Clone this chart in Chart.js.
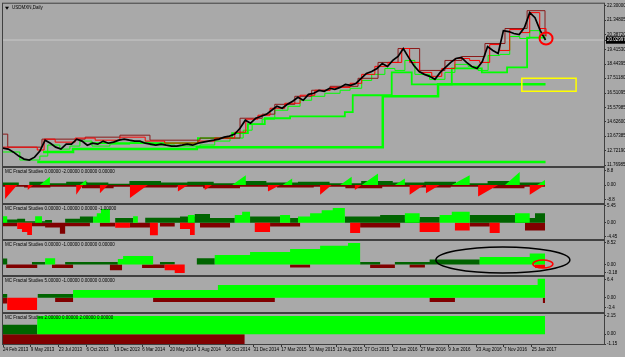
<!DOCTYPE html>
<html>
<head>
<meta charset="utf-8">
<title>USDMXN,Daily</title>
<script src="https://cdn.jsdelivr.net/npm/chart.js@4.4.1/dist/chart.umd.min.js"></script>
<style>
  html, body { margin: 0; padding: 0; }
  body { width: 625px; height: 357px; background: #a9a9a9; position: relative; overflow: hidden; }
  canvas { position: absolute; left: 0; }
</style>
</head>
<body>
<canvas id="pMain" width="625" height="171" style="top:0px"></canvas>
<canvas id="p1" width="625" height="45" style="top:163px"></canvas>
<canvas id="p2" width="625" height="44" style="top:200px"></canvas>
<canvas id="p3" width="625" height="44" style="top:236px"></canvas>
<canvas id="p4" width="625" height="45" style="top:272px"></canvas>
<canvas id="p5" width="625" height="48" style="top:309px"></canvas>
<script>
// time axis (x = trading-day bar index from 24 Feb 2013)
const dateLabels = ['24 Feb 2013','9 May 2013','23 Jul 2013','6 Oct 2013','19 Dec 2013','6 Mar 2014',
  '20 May 2014','3 Aug 2014','16 Oct 2014','31 Dec 2014','17 Mar 2015','31 May 2015','13 Aug 2015',
  '27 Oct 2015','12 Jan 2016','27 Mar 2016','9 Jun 2016','23 Aug 2016','7 Nov 2016','25 Jan 2017'];
const barsPerLabel = 52.84;
const lastBar = 1141;

// price panel
const priceTicks = [22.30000, 21.34805, 20.38720, 19.41530, 18.44395, 17.51180, 16.51095,
  15.57985, 14.62600, 13.67385, 12.72190, 11.76985];
const lastPrice = 20.02997;
const closeStep = 10;
const close = [12.89,12.82,12.62,12.36,12.16,12.10,12.29,12.69,13.41,13.21,
  12.95,12.82,13.15,13.15,13.48,13.35,13.08,13.21,13.15,13.35,
  13.21,13.28,13.41,13.48,13.41,13.35,13.35,13.21,13.15,13.08,
  13.15,13.08,13.02,13.02,13.08,13.15,13.08,13.21,13.28,13.35,
  13.41,13.48,13.61,13.68,13.81,14.20,14.73,14.53,14.86,14.99,
  15.12,15.39,15.65,15.52,15.78,15.98,16.24,16.05,16.44,16.51,
  16.70,16.64,16.84,16.77,16.90,17.10,17.03,17.16,17.49,17.82,
  17.95,18.15,18.48,18.28,18.68,18.94,19.47,18.88,18.35,17.95,
  17.76,17.63,17.43,17.89,18.22,18.55,18.81,18.88,18.55,18.28,
  18.15,18.61,19.60,19.34,19.14,20.65,20.59,20.46,20.39,20.85,
  21.84,21.51,20.65,20.03];

// fractal support (green) and resistance (red) levels: [bar] / [level]
const supSlowX = [65, 1030];
const supSlowY = [11.97, 11.97];
const supBigX = [76, 133, 368, 721, 826, 1030];
const supBigY = [12.63, 12.82, 12.95, 16.31, 17.10, 17.10];
const supMidX = [165, 370, 435, 465, 497, 545, 649, 664, 738, 776, 852, 909, 957, 995, 1030];
const supMidY = [13.22, 13.55, 13.88, 14.47, 14.86, 14.99, 15.26, 16.38, 17.89, 17.10, 18.15, 17.89, 18.22, 20.19, 20.19];
const supFastX = [0,32,70,85,108,127,146,169,203,241,279,326,374,402,431,456,473,492,516,541,
  564,586,611,640,659,681,700,725,744,763,782,810,839,858,883,902,921,943,962,981,1000,1019,1030];
const supFastY = [12.63,12.10,12.36,13.09,12.82,13.02,13.35,13.02,13.15,13.28,13.09,13.02,13.09,13.35,13.55,14.07,14.47,14.80,15.39,15.65,
  16.05,16.31,16.51,16.71,16.84,17.36,17.76,18.15,18.02,18.68,17.76,17.43,17.89,18.42,18.29,18.02,19.01,19.08,20.26,20.13,20.65,20.33,20.33];
const resSlowX = [0,9,74,156,222,279,374,450,492,516,554,586,621,674,712,750,791,839,871,915,953,995,1029,1031];
const resSlowY = [13.81,12.95,13.48,13.61,13.74,13.41,13.55,14.86,15.13,15.78,16.31,16.71,16.97,17.50,18.55,19.47,18.02,18.68,18.94,19.80,20.79,21.97,20.33,20.33];
const resFastX = [0,65,78,99,137,175,222,270,307,370,402,440,461,484,507,535,564,592,621,659,
  681,706,731,757,772,791,814,833,858,886,905,924,943,962,985,1000,1019,1031];
const resFastY = [12.95,12.76,13.48,13.28,13.55,13.41,13.61,13.35,13.22,13.35,13.55,13.94,14.80,15.06,15.52,15.85,16.38,16.71,16.90,17.17,
  17.76,18.29,18.55,19.47,18.55,17.89,17.63,18.15,18.81,18.68,18.55,19.73,19.34,20.72,20.52,21.84,20.79,20.26];

// MC Fractal Studies 1
const p1RedStart = [4,47,139,184,241,332,383,503,602,668,772,803,902,1000];
const p1RedEnd = [27,57,152,199,275,351,397,526,624,681,799,829,940,1029];
const p1RedDepth = [-8.5,-3,-6,-5,-8,-4,-3,-4,-6,-3,-6,-5,-7,-6];
const p1GreenStart = [70,146,435,531,640,681,744,852,953,1014];
const p1GreenEnd = [89,158,461,549,662,712,763,886,981,1029];
const p1GreenHeight = [5,3,6,4,5,7,4,6,8,3];
const p1DarkGreenX = [0,30,50,80,120,160,200,240,300,350,400,450,500,560,620,680,740,800,860,920,980,1029];
const p1DarkGreenY = [1.5,0,2,1,2,1.5,0.8,2.5,1.5,2,1,2.5,1.5,2,1,2.5,1.5,2,1,2.5,1.5,0];
const p1DarkRedX = [0,40,90,150,210,260,330,380,450,520,590,650,720,790,850,930,990,1029];
const p1DarkRedY = [-1,-1.5,-1,-2,-1,-1.5,-1,-2,-1,-1.5,-1,-2,-1,-1.5,-1,-2,-1,0];

// MC Fractal Studies 2
const p2GreenX = [0,8,61,74,171,178,186,203,247,256,351,364,440,454,469,526,545,560,583,605,626,649,763,791,829,852,886,972,1000,1029];
const p2GreenY = [2.1,0,2.1,0,2,3,4.4,0,2.1,0,2.5,0,2.5,3.5,0,2.5,0,2,3,4,4.7,0,3,0,2.5,3.5,0,3,0,0];
const p2DarkGreenX = [0,27,42,80,93,118,146,171,213,247,270,336,364,393,440,469,526,545,560,649,716,763,791,829,886,972,1010,1029];
const p2DarkGreenY = [1,1.3,0.5,0.9,0,1.3,2,0,1.5,0,1.6,2,2.8,1.5,0,2,0,1.5,0,2,2.5,1,1.8,0,2.5,1.5,3,0];
const p2RedX = [0,27,36,46,55,213,241,279,294,336,355,364,478,507,659,678,791,829,858,886,924,943,1029];
const p2RedY = [0,-2,-3,-3.9,0,-1.6,0,-4,0,-2,-3.9,0,-3,0,-3.3,0,-3,0,-2.5,0,-3.3,0,0];
const p2DarkRedX = [0,27,55,80,108,118,165,184,213,241,279,298,326,374,431,507,564,678,754,886,924,991,1029];
const p2DarkRedY = [-1.1,0,-1.1,-1.5,-3.5,-1.1,0,-1.2,0,-1.5,0,-1.2,0,-1.5,0,-1.2,0,-1.5,0,-1.2,0,-2.5,0];

// MC Fractal Studies 3
const p3GreenX = [0,80,99,218,228,285,402,469,545,602,655,678,905,1000,1029];
const p3GreenY = [0,2.5,0,2.2,3.3,0,3.7,4.9,6.1,7.3,8.4,0,2.9,4.3,0];
const p3DarkGreenX = [0,8,55,80,118,218,298,326,368,402,678,716,744,810,905,1029];
const p3DarkGreenY = [2.4,0,1,0,1,0,1,0,2.5,0,1,0,1,2,0,0];
const p3DarkRedX = [0,6,65,93,133,203,226,264,307,545,583,697,744,772,801,1029];
const p3DarkRedY = [0,-1.4,0,-1.4,0,-2.2,0,-1.4,0,-1.2,0,-1.4,0,-1.2,0,0];
const p3RedX = [0,307,326,345,1010,1029];
const p3RedY = [0,-2.2,-3.3,0,-1.4,0];

// MC Fractal Studies 4
const p4GreenX = [0,133,408,1015,1029];
const p4GreenY = [0,2.7,4.4,6.6,0];
const p4DarkGreenX = [0,8,66,133];
const p4DarkGreenY = [1.3,0,1.3,0];
const p4RedX = [0,8,65];
const p4RedY = [0,-4.3,0];
const p4DarkRedX = [0,8,99,133,285,516,810,858,1025,1029];
const p4DarkRedY = [-2,0,-1.5,0,-1.5,0,-1.5,0,-1.8,0];

// MC Fractal Studies 5
const p5GreenX = [0,65,1029];
const p5GreenY = [0,2.15,0];
const p5DarkGreenX = [0,65];
const p5DarkGreenY = [1.1,0];
const p5DarkRedX = [0,459];
const p5DarkRedY = [-1.15,0];

const LIME = '#00ff00', DKGREEN = '#006400', RED = '#ff0000', MAROON = '#800000';
const FONT = { family: 'Liberation Sans', size: 4.5 };

const pts = (xs, ys) => xs.map((x, i) => ({ x: x, y: ys[i] }));

function levelLine(xs, ys, color, width) {
  return { data: pts(xs, ys), borderColor: color, borderWidth: width, stepped: true, fill: false, pointRadius: 0 };
}
function block(xs, ys, color) {
  return { data: pts(xs, ys), backgroundColor: color, borderColor: 'rgba(0,0,0,0)', borderWidth: 0,
    stepped: true, fill: 'origin', pointRadius: 0 };
}
function ramps(starts, ends, sizes, color, dropFirst) {
  const d = [];
  starts.forEach((s, i) => {
    if (dropFirst) d.push({ x: s, y: 0 }, { x: s, y: sizes[i] }, { x: ends[i], y: 0 });
    else d.push({ x: s, y: 0 }, { x: ends[i], y: sizes[i] }, { x: ends[i], y: 0 });
  });
  return { data: d, backgroundColor: color, borderColor: 'rgba(0,0,0,0)', borderWidth: 0,
    fill: 'origin', pointRadius: 0 };
}

const framePlugin = {
  id: 'frame',
  afterDatasetsDraw(chart, args, o) {
    const { ctx, scales: { x, y } } = chart;
    (o.marks || []).forEach(m => {
      ctx.save();
      ctx.strokeStyle = m.color;
      ctx.lineWidth = m.width;
      ctx.beginPath();
      if (m.type === 'box') {
        const l = x.getPixelForValue(m.x0), r = x.getPixelForValue(m.x1);
        const t = y.getPixelForValue(m.y0), b = y.getPixelForValue(m.y1);
        ctx.rect(l, t, r - l, b - t);
      } else {
        ctx.ellipse(x.getPixelForValue(m.x), y.getPixelForValue(m.y), m.rx, m.ry, 0, 0, Math.PI * 2);
      }
      ctx.stroke();
      ctx.restore();
    });
  },
  afterDraw(chart, args, o) {
    const { ctx, chartArea: a } = chart;
    ctx.save();
    ctx.strokeStyle = '#404040';
    ctx.lineWidth = 1;
    ctx.strokeRect(a.left - 0.5, a.top - 0.5, a.right - a.left + 1, a.bottom - a.top + 1);
    ctx.fillStyle = '#000';
    let tx = a.left + 2;
    if (o.arrow) {
      ctx.beginPath();
      ctx.moveTo(tx, a.top + 3); ctx.lineTo(tx + 4, a.top + 3); ctx.lineTo(tx + 2, a.top + 6);
      ctx.closePath(); ctx.fill();
      tx += 7;
    }
    ctx.font = '4.5px "Liberation Sans"';
    ctx.textBaseline = 'top';
    ctx.fillText(o.title, tx, a.top + 2);
    ctx.restore();
  }
};
Chart.register(framePlugin);

function xScale(show) {
  return {
    type: 'linear', min: 0, max: lastBar, display: show,
    afterBuildTicks: ax => { ax.ticks = dateLabels.map((_, i) => ({ value: i * barsPerLabel })); },
    afterFit: ax => { ax.height = show ? 13 : 0; },
    grid: { drawOnChartArea: false, drawTicks: true, tickLength: 3, color: '#333' },
    border: { display: false },
    ticks: { font: FONT, color: '#000', align: 'start', padding: 0, maxRotation: 0, autoSkip: false,
      callback: (v, i) => dateLabels[i] }
  };
}
function yScale(min, max, vals, texts, extra) {
  return Object.assign({
    type: 'linear', position: 'right', min: min, max: max,
    afterBuildTicks: ax => { ax.ticks = vals.map(v => ({ value: v })); },
    afterFit: ax => { ax.width = 21; },
    grid: { drawOnChartArea: false, drawTicks: true, tickLength: 2, color: '#333' },
    border: { display: true, color: '#333' },
  }, extra || {}, {
    ticks: Object.assign({ font: FONT, color: '#000', padding: 1, autoSkip: false,
      callback: (v, i) => texts[i] }, (extra && extra.ticks) || {})
  });
}
function makeChart(id, datasets, y, frame, pad, showX) {
  return new Chart(document.getElementById(id), {
    type: 'line',
    data: { datasets: datasets },
    options: {
      responsive: false, animation: false, events: [],
      layout: { padding: pad },
      scales: { x: xScale(showX), y: y },
      plugins: { legend: { display: false }, tooltip: { enabled: false }, frame: frame }
    }
  });
}

// price panel
const mainTicks = priceTicks.concat([lastPrice]);
makeChart('pMain', [
  { data: close.map((v, i) => ({ x: i * closeStep, y: v })), borderColor: '#000', borderWidth: 1.7, pointRadius: 0, fill: false },
  levelLine(resFastX, resFastY, RED, 1),
  levelLine(resSlowX, resSlowY, '#8b1a1a', 1),
  levelLine(supFastX, supFastY, LIME, 1),
  levelLine(supMidX, supMidY, LIME, 1.8),
  levelLine(supBigX, supBigY, LIME, 2.5),
  levelLine(supSlowX, supSlowY, LIME, 2.5),
  { data: [{ x: 0, y: lastPrice }, { x: lastBar, y: lastPrice }], borderColor: '#c8c8c8', borderWidth: 1, pointRadius: 0, fill: false }
], yScale(11.704, 22.43, mainTicks, mainTicks.map(v => v.toFixed(5)), {
  ticks: {
    color: c => (c.tick && c.tick.value === lastPrice) ? '#fff' : '#000',
    showLabelBackdrop: c => !!(c.tick && c.tick.value === lastPrice),
    backdropColor: '#000',
    backdropPadding: { top: 1, bottom: 1, left: 1, right: 2 }
  }
}), {
  title: 'USDMXN,Daily', arrow: true,
  marks: [
    { type: 'box', x0: 985, x1: 1088, y0: 17.50, y1: 16.64, color: '#ffff00', width: 1.5 },
    { type: 'ellipse', x: 1031, y: 20.13, rx: 6.5, ry: 6, color: '#ff0000', width: 2 }
  ]
}, { left: 3, right: 0, top: 3, bottom: 5 }, false);

makeChart('p1', [
  ramps(p1GreenStart, p1GreenEnd, p1GreenHeight, LIME, false),
  ramps(p1RedStart, p1RedEnd, p1RedDepth, RED, true),
  block(p1DarkGreenX, p1DarkGreenY, DKGREEN),
  block(p1DarkRedX, p1DarkRedY, MAROON)
], yScale(-11.0, 10.4, [8.8, 0, -8.8], ['8.8', '0.00', '-8.8']),
  { title: 'MC Fractal Studies 0.00000 -2.00000 0.00000 0.00000' },
  { left: 3, right: 0, top: 5, bottom: 5 }, false);

makeChart('p2', [
  block(p2GreenX, p2GreenY, LIME),
  block(p2RedX, p2RedY, RED),
  block(p2DarkGreenX, p2DarkGreenY, DKGREEN),
  block(p2DarkRedX, p2DarkRedY, MAROON)
], yScale(-5.22, 5.67, [5.45, 0, -4.45], ['5.45', '0.00', '-4.45']),
  { title: 'MC Fractal Studies 0.00000 -1.00000 0.00000 -1.00000' },
  { left: 3, right: 0, top: 5, bottom: 5 }, false);

makeChart('p3', [
  block(p3GreenX, p3GreenY, LIME),
  block(p3RedX, p3RedY, RED),
  block(p3DarkGreenX, p3DarkGreenY, DKGREEN),
  block(p3DarkRedX, p3DarkRedY, MAROON)
], yScale(-4.1, 9.2, [8.52, 0, -3.18], ['8.52', '0.00', '-3.18']), {
  title: 'MC Fractal Studies 0.00000 -1.00000 0.00000 0.00000',
  marks: [
    { type: 'ellipse', x: 949, y: 1.76, rx: 67, ry: 13, color: '#000', width: 1.5 },
    { type: 'ellipse', x: 1025, y: 0.2, rx: 10, ry: 4, color: '#ff0000', width: 1.5 }
  ]
}, { left: 3, right: 0, top: 5, bottom: 5 }, false);

makeChart('p4', [
  block(p4GreenX, p4GreenY, LIME),
  block(p4RedX, p4RedY, RED),
  block(p4DarkGreenX, p4DarkGreenY, DKGREEN),
  block(p4DarkRedX, p4DarkRedY, MAROON)
], yScale(-4.97, 7.2, [6.4, 0, -3.4], ['6.4', '0.00', '-3.4']),
  { title: 'MC Fractal Studies 5.00000 -1.00000 0.00000 0.00000' },
  { left: 3, right: 0, top: 5, bottom: 5 }, false);

makeChart('p5', [
  block(p5GreenX, p5GreenY, LIME),
  block(p5DarkGreenX, p5DarkGreenY, DKGREEN),
  block(p5DarkRedX, p5DarkRedY, MAROON)
], yScale(-1.15, 2.37, [2.15, 0, -1.15], ['2.15', '0.00', '-1.15']),
  { title: 'MC Fractal Studies 2.00000 0.00000 2.00000 0.00000' },
  { left: 3, right: 0, top: 5, bottom: 0 }, true);
</script>
</body>
</html>
